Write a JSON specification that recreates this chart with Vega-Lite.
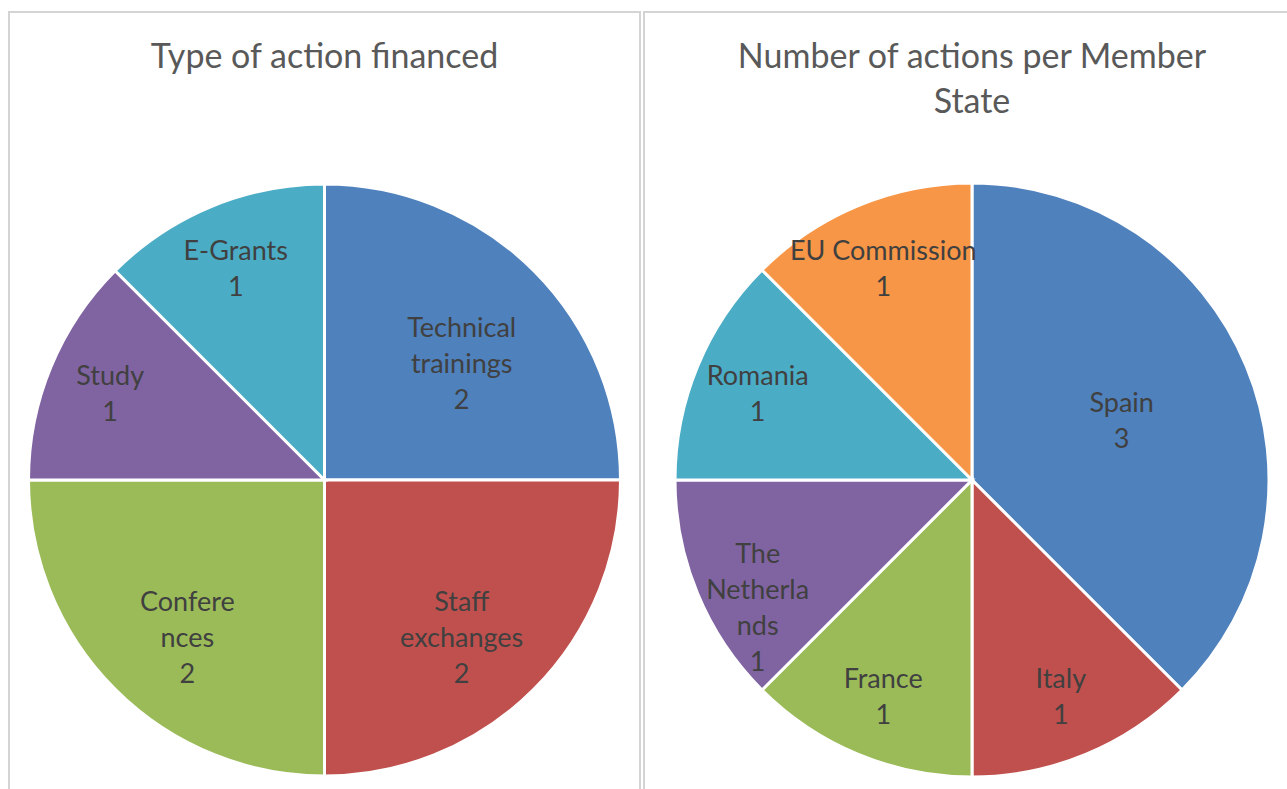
{
  "$schema": "https://vega.github.io/schema/vega-lite/v6.json",
  "autosize": {"type": "none"},
  "padding": {"left": 9, "top": 12, "right": 1278, "bottom": 777},
  "background": "white",
  "spacing": 2,
  "config": {
    "view": {"stroke": "#D4D4D4", "strokeWidth": 2},
    "title": {"font": "Lato", "fontSize": 34, "fontWeight": "normal", "color": "#595959", "lineHeight": 45, "anchor": "middle", "baseline": "top"}
  },
  "resolve": {"scale": {"color": "independent", "theta": "independent", "radius": "independent"}},
  "hconcat": [
    {
      "width": 631,
      "height": 936,
      "view": {"stroke": "#D4D4D4", "strokeWidth": 2, "fill": "white"},
      "title": {"text": "Type of action financed", "offset": -63},
      "data": {"values": [
        {"k": 1, "label": "Technical trainings", "display": "Technical\ntrainings", "value": 2},
        {"k": 2, "label": "Staff exchanges", "display": "Staff\nexchanges", "value": 2},
        {"k": 3, "label": "Conferences", "display": "Confere\nnces", "value": 2},
        {"k": 4, "label": "Study", "display": "Study", "value": 1},
        {"k": 5, "label": "E-Grants", "display": "E-Grants", "value": 1}
      ]},
      "transform": [{"calculate": "datum.display + '\\n' + datum.value", "as": "txt"}],
      "layer": [
        {
          "mark": {"type": "arc", "outerRadius": 296, "stroke": "white", "strokeWidth": 3},
          "encoding": {
            "theta": {"field": "value", "type": "quantitative", "stack": true},
            "order": {"field": "k", "type": "quantitative"},
            "color": {"field": "label", "type": "nominal", "legend": null,
              "scale": {"domain": ["Technical trainings", "Staff exchanges", "Conferences", "Study", "E-Grants"],
                        "range": ["#4F81BD", "#C0504D", "#9BBB59", "#8064A2", "#4BACC6"]}}
          }
        },
        {
          "mark": {"type": "text", "font": "Lato", "fontSize": 27, "lineHeight": 36, "lineBreak": "\n", "color": "#404040", "align": "center", "baseline": "middle", "dy": -14},
          "encoding": {
            "theta": {"field": "value", "type": "quantitative", "stack": true},
            "order": {"field": "k", "type": "quantitative"},
            "radius": {"field": "value", "type": "quantitative", "scale": {"type": "linear", "domain": [1, 2, 3], "range": [232, 194, 162], "zero": false}},
            "text": {"field": "txt", "type": "nominal"}
          }
        }
      ]
    },
    {
      "width": 656,
      "height": 936,
      "view": {"stroke": "#D4D4D4", "strokeWidth": 2, "fill": "white"},
      "title": {"text": ["Number of actions per Member", "State"], "offset": -108},
      "data": {"values": [
        {"k": 1, "label": "Spain", "display": "Spain", "value": 3},
        {"k": 2, "label": "Italy", "display": "Italy", "value": 1},
        {"k": 3, "label": "France", "display": "France", "value": 1},
        {"k": 4, "label": "The Netherlands", "display": "The\nNetherla\nnds", "value": 1},
        {"k": 5, "label": "Romania", "display": "Romania", "value": 1},
        {"k": 6, "label": "EU Commission", "display": "EU Commission", "value": 1}
      ]},
      "transform": [{"calculate": "datum.display + '\\n' + datum.value", "as": "txt"}],
      "layer": [
        {
          "mark": {"type": "arc", "outerRadius": 297, "stroke": "white", "strokeWidth": 3},
          "encoding": {
            "theta": {"field": "value", "type": "quantitative", "stack": true},
            "order": {"field": "k", "type": "quantitative"},
            "color": {"field": "label", "type": "nominal", "legend": null,
              "scale": {"domain": ["Spain", "Italy", "France", "The Netherlands", "Romania", "EU Commission"],
                        "range": ["#4F81BD", "#C0504D", "#9BBB59", "#8064A2", "#4BACC6", "#F79646"]}}
          }
        },
        {
          "mark": {"type": "text", "font": "Lato", "fontSize": 27, "lineHeight": 36, "lineBreak": "\n", "color": "#404040", "align": "center", "baseline": "middle", "dy": -14},
          "encoding": {
            "theta": {"field": "value", "type": "quantitative", "stack": true},
            "order": {"field": "k", "type": "quantitative"},
            "radius": {"field": "value", "type": "quantitative", "scale": {"type": "linear", "domain": [1, 2, 3], "range": [232, 194, 162], "zero": false}},
            "text": {"field": "txt", "type": "nominal"}
          }
        }
      ]
    }
  ]
}
